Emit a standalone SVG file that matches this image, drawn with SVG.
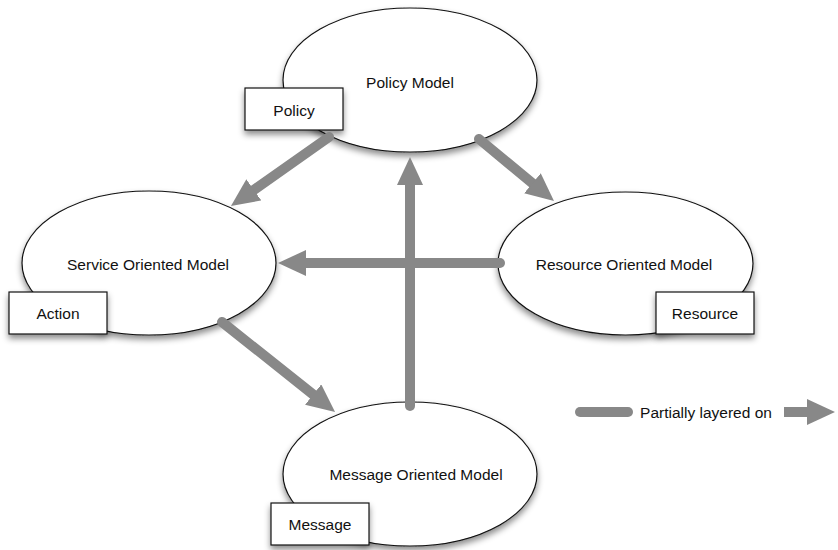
<svg xmlns="http://www.w3.org/2000/svg" width="838" height="550" viewBox="0 0 838 550">
  <defs>
    <filter id="shadow" x="-20%" y="-20%" width="140%" height="150%">
      <feDropShadow dx="0" dy="4" stdDeviation="3" flood-color="#000" flood-opacity="0.45"/>
    </filter>
    <marker id="head" markerUnits="userSpaceOnUse" markerWidth="28" markerHeight="26" refX="8" refY="13" orient="auto" viewBox="0 0 28 26">
      <path d="M0,0 L28,13 L0,26 z" fill="#888"/>
    </marker>
    <style>
      .node { fill: #fff; stroke: #111; stroke-width: 1.2; filter: url(#shadow); }
      .box { fill: #fff; stroke: #111; stroke-width: 1.2; filter: url(#shadow); }
      .label { font-family: "Liberation Sans", Arial, sans-serif; font-size: 15.5px; fill: #111; text-anchor: middle; dominant-baseline: central; }
      .conn { stroke: #888; stroke-width: 10; fill: none; stroke-linecap: round; marker-end: url(#head); }
    </style>
  </defs>

  <g id="policy-model">
    <ellipse class="node" cx="410" cy="80" rx="127" ry="72"/>
    <text class="label" x="410" y="82">Policy Model</text>
  </g>
  <g id="service-oriented-model">
    <ellipse class="node" cx="149" cy="263" rx="127" ry="72"/>
    <text class="label" x="148" y="264">Service Oriented Model</text>
  </g>
  <g id="resource-oriented-model">
    <ellipse class="node" cx="625.5" cy="263.5" rx="127.5" ry="71.5"/>
    <text class="label" x="624" y="264">Resource Oriented Model</text>
  </g>
  <g id="message-oriented-model">
    <ellipse class="node" cx="410" cy="474" rx="127" ry="72"/>
    <text class="label" x="416" y="474">Message Oriented Model</text>
  </g>

  <g id="policy-box">
    <rect class="box" x="245" y="88" width="98" height="42"/>
    <text class="label" x="294" y="110">Policy</text>
  </g>
  <g id="action-box">
    <rect class="box" x="9" y="292" width="98" height="42"/>
    <text class="label" x="58" y="313">Action</text>
  </g>
  <g id="resource-box">
    <rect class="box" x="656" y="292" width="98" height="42"/>
    <text class="label" x="705" y="313">Resource</text>
  </g>
  <g id="message-box">
    <rect class="box" x="271" y="503" width="98" height="42"/>
    <text class="label" x="320" y="524">Message</text>
  </g>

  <g id="connectors">
    <path class="conn" d="M329,137 L247.3,194.5"/>
    <path class="conn" d="M479,139 L538.6,188.3"/>
    <path class="conn" d="M500,263 L298,263"/>
    <path class="conn" d="M410,406 L410,177"/>
    <path class="conn" d="M222,322 L319.4,399.5"/>
  </g>

  <g id="legend">
    <path d="M580,412 L628,412" stroke="#888" stroke-width="10" stroke-linecap="round" fill="none"/>
    <text class="label" x="706" y="412">Partially layered on</text>
    <path d="M784,412 L815,412" stroke="#888" stroke-width="10" stroke-linecap="butt" fill="none" marker-end="url(#head)"/>
  </g>
</svg>
